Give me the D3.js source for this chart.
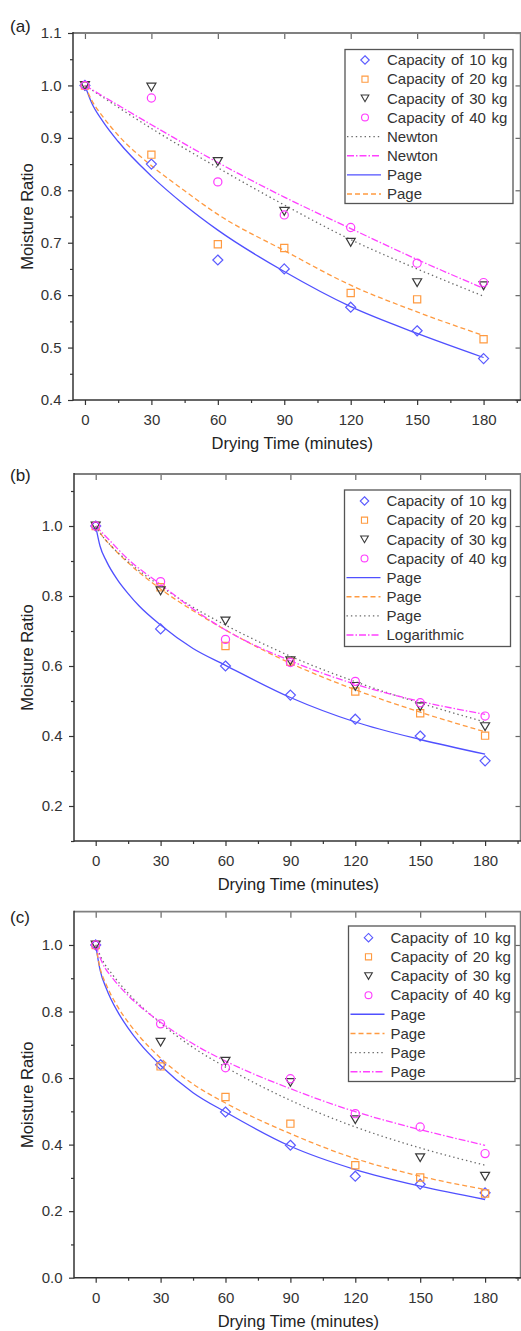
<!DOCTYPE html>
<html>
<head>
<meta charset="utf-8">
<script src="https://cdn.jsdelivr.net/npm/d3@7"></script>
<style>
  html, body { margin: 0; padding: 0; background: #fff; }
  svg { display: block; font-family: "Liberation Sans", Arial, sans-serif; }
</style>
</head>
<body>
<svg id="chart" width="521" height="1331"></svg>
<script>
// ---------------- DATA ----------------
const times = [0, 30, 60, 90, 120, 150, 180];
const seriesNames = ["Capacity of 10 kg", "Capacity of 20 kg", "Capacity of 30 kg", "Capacity of 40 kg"];
const xTicks = [0, 30, 60, 90, 120, 150, 180];
const xMinorTicks = [15, 45, 75, 105, 135, 165, 195];

// Panel (a) measured moisture ratios
const aMR10 = [1.000, 0.850, 0.667, 0.650, 0.577, 0.532, 0.479];
const aMR20 = [1.000, 0.868, 0.697, 0.690, 0.604, 0.592, 0.516];
const aMR30 = [1.000, 0.997, 0.855, 0.760, 0.701, 0.624, 0.618];
const aMR40 = [1.000, 0.976, 0.816, 0.753, 0.729, 0.661, 0.624];
// Panel (a) fitted curves [time, MR]
const aFit10 = [[0,1],[3,0.967],[8,0.932],[15,0.893],[30,0.827],[45,0.772],[60,0.724],[90,0.645],[120,0.578],[150,0.527],[180,0.481]];
const aFit20 = [[0,1],[3,0.972],[8,0.941],[15,0.905],[30,0.847],[45,0.799],[60,0.754],[90,0.685],[120,0.619],[150,0.568],[180,0.523]];
const aFit30 = [[0,1],[30,0.918],[60,0.843],[90,0.772],[120,0.706],[150,0.650],[180,0.598]];
const aFit40 = [[0,1],[30,0.925],[60,0.853],[90,0.787],[120,0.727],[150,0.668],[180,0.613]];
const aFitNames = ["Page", "Page", "Newton", "Newton"];
const aLegendOrder = [2, 3, 0, 1];
const aYTicks = [0.4, 0.5, 0.6, 0.7, 0.8, 0.9, 1.0, 1.1];
const aYMinorTicks = [0.45, 0.55, 0.65, 0.75, 0.85, 0.95, 1.05];

// Panel (b)
const bMR10 = [1.000, 0.706, 0.600, 0.517, 0.448, 0.400, 0.329];
const bMR20 = [1.000, 0.825, 0.657, 0.612, 0.527, 0.465, 0.401];
const bMR30 = [1.000, 0.815, 0.729, 0.615, 0.542, 0.484, 0.427];
const bMR40 = [1.000, 0.841, 0.676, 0.610, 0.556, 0.495, 0.457];
const bFit10 = [[0,1],[2,0.943],[5,0.899],[10,0.847],[15,0.807],[20,0.772],[30,0.717],[45,0.650],[60,0.602],[90,0.510],[120,0.440],[150,0.390],[180,0.348]];
const bFit20 = [[0,1],[3,0.972],[8,0.937],[15,0.895],[30,0.820],[45,0.758],[60,0.703],[90,0.608],[120,0.532],[150,0.468],[180,0.412]];
const bFit30 = [[0,1],[3,0.972],[8,0.938],[15,0.898],[30,0.828],[45,0.768],[60,0.717],[90,0.628],[120,0.555],[150,0.494],[180,0.440]];
const bFit40 = [[0,1],[5,0.968],[15,0.905],[30,0.833],[45,0.763],[60,0.703],[90,0.615],[120,0.548],[150,0.499],[180,0.462]];
const bFitNames = ["Page", "Page", "Page", "Logarithmic"];
const bLegendOrder = [0, 1, 2, 3];
const bYTicks = [0.2, 0.4, 0.6, 0.8, 1.0];
const bYMinorTicks = [0.1, 0.3, 0.5, 0.7, 0.9, 1.1];

// Panel (c)
const cMR10 = [1.000, 0.640, 0.498, 0.398, 0.305, 0.281, 0.255];
const cMR20 = [1.000, 0.635, 0.543, 0.463, 0.338, 0.301, 0.253];
const cMR30 = [1.000, 0.708, 0.651, 0.587, 0.475, 0.361, 0.305];
const cMR40 = [1.000, 0.763, 0.631, 0.598, 0.493, 0.453, 0.373];
const cFit10 = [[0,1],[2,0.925],[5,0.868],[10,0.801],[15,0.750],[20,0.707],[30,0.638],[45,0.556],[60,0.498],[90,0.395],[120,0.325],[150,0.275],[180,0.235]];
const cFit20 = [[0,1],[2,0.931],[5,0.879],[10,0.816],[15,0.768],[20,0.727],[30,0.660],[45,0.582],[60,0.525],[90,0.433],[120,0.358],[150,0.305],[180,0.265]];
const cFit30 = [[0,1],[3,0.956],[8,0.909],[15,0.855],[30,0.765],[45,0.692],[60,0.633],[90,0.533],[120,0.453],[150,0.390],[180,0.338]];
const cFit40 = [[0,1],[3,0.947],[8,0.899],[15,0.848],[20,0.818],[30,0.768],[45,0.703],[60,0.651],[90,0.568],[120,0.499],[150,0.445],[180,0.398]];
const cFitNames = ["Page", "Page", "Page", "Page"];
const cLegendOrder = [0, 1, 2, 3];
const cYTicks = [0.0, 0.2, 0.4, 0.6, 0.8, 1.0];
const cYMinorTicks = [0.1, 0.3, 0.5, 0.7, 0.9];

// ---------------- STYLE ----------------
const colors = ["#5b5bff", "#ff9a40", "#3a3a3a", "#ff3cff"];
const lineColors = ["#5050ff", "#ff9a40", "#6a6a6a", "#ff40ff"];
const dashes = [null, "5,3", "1.4,3", "7,2,1.5,2"];
const markerPaths = [
  "M0,-5L5,0L0,5L-5,0Z",
  "M-3.6,-3.6H3.6V3.6H-3.6Z",
  "M-4.5,-3.8L4.5,-3.8L0,4Z",
  d3.symbol(d3.symbolCircle, 52)()
];

const panels = [
  { label: "(a)", labelY: 32, left: 73, right: 521, top: 33, bottom: 400,
    xDomain: [-5.4, 196.9], yDomain: [0.4, 1.1], yTicks: aYTicks, yMinor: aYMinorTicks,
    mr: [aMR10, aMR20, aMR30, aMR40], fits: [aFit10, aFit20, aFit30, aFit40],
    fitNames: aFitNames, legendOrder: aLegendOrder,
    legend: { x: 345, y: 49.5, w: 168, h: 154, row0: 60 } },
  { label: "(b)", labelY: 481, left: 74, right: 521, top: 474, bottom: 841,
    xDomain: [-10.03, 196.6], yDomain: [0.1, 1.1486], yTicks: bYTicks, yMinor: bYMinorTicks,
    mr: [bMR10, bMR20, bMR30, bMR40], fits: [bFit10, bFit20, bFit30, bFit40],
    fitNames: bFitNames, legendOrder: bLegendOrder,
    legend: { x: 344.5, y: 490, w: 166, h: 156.5, row0: 501 } },
  { label: "(c)", labelY: 923, left: 74, right: 521, top: 911.7, bottom: 1277.7,
    xDomain: [-10.03, 196.6], yDomain: [0, 1.1], yTicks: cYTicks, yMinor: cYMinorTicks,
    mr: [cMR10, cMR20, cMR30, cMR40], fits: [cFit10, cFit20, cFit30, cFit40],
    fitNames: cFitNames, legendOrder: cLegendOrder,
    legend: { x: 348.5, y: 926, w: 166.5, h: 155.5, row0: 937.7 } }
];

const svg = d3.select("#chart");
const textColor = "#333";

panels.forEach((p, pi) => {
  const x = d3.scaleLinear().domain(p.xDomain).range([p.left, p.right]);
  const y = d3.scaleLinear().domain(p.yDomain).range([p.bottom, p.top]);
  const g = svg.append("g");

  const clipId = "clip" + pi;
  g.append("clipPath").attr("id", clipId).append("rect")
    .attr("x", p.left).attr("y", p.top).attr("width", p.right - p.left).attr("height", p.bottom - p.top);

  // fitted curves
  const line = d3.line().x(d => x(d[0])).y(d => y(d[1])).curve(d3.curveMonotoneX);
  const plot = g.append("g").attr("clip-path", `url(#${clipId})`);
  p.fits.forEach((f, i) => {
    plot.append("path").attr("d", line(f)).attr("fill", "none")
      .attr("stroke", lineColors[i]).attr("stroke-width", 1.3)
      .attr("stroke-dasharray", dashes[i]);
  });

  // markers
  p.mr.forEach((vals, i) => {
    plot.append("g").selectAll("path").data(vals).join("path")
      .attr("d", markerPaths[i])
      .attr("transform", (v, j) => `translate(${x(times[j])},${y(v)})`)
      .attr("fill", "none").attr("stroke", colors[i]).attr("stroke-width", 1.2);
  });

  // axes
  const fmt = d3.format(".1f");
  const bottomMinor = g.append("g").attr("transform", `translate(0,${p.bottom})`)
    .call(d3.axisBottom(x).tickValues(xMinorTicks).tickSize(3).tickFormat(""));
  const bottomMajor = g.append("g").attr("transform", `translate(0,${p.bottom})`)
    .call(d3.axisBottom(x).tickValues(xTicks).tickSize(5).tickPadding(9.5).tickFormat(d3.format("d")));
  const leftMinor = g.append("g").attr("transform", `translate(${p.left},0)`)
    .call(d3.axisLeft(y).tickValues(p.yMinor).tickSize(3).tickFormat(""));
  const leftMajor = g.append("g").attr("transform", `translate(${p.left},0)`)
    .call(d3.axisLeft(y).tickValues(p.yTicks).tickSize(5).tickPadding(6.5).tickFormat(fmt));
  const topAxis = g.append("g").attr("transform", `translate(0,${p.top})`)
    .call(d3.axisTop(x).tickValues(xTicks).tickSize(-6).tickFormat(""));
  const rightAxis = g.append("g").attr("transform", `translate(${p.right - 0.5},0)`)
    .call(d3.axisRight(y).tickValues(p.yTicks).tickSize(-5).tickFormat(""));

  [bottomMinor, bottomMajor, leftMinor, leftMajor].forEach(a => {
    a.select(".domain").remove();
    a.selectAll(".tick line").attr("stroke", "#333").attr("stroke-width", 1.2);
    a.selectAll(".tick text").attr("fill", textColor).attr("font-size", 15)
      .attr("font-family", "'Liberation Sans', Arial, sans-serif");
  });
  [topAxis, rightAxis].forEach(a => {
    a.select(".domain").remove();
    a.selectAll(".tick line").attr("stroke", "#666").attr("stroke-width", 1.2);
  });

  // frame
  g.append("line").attr("x1", p.left).attr("x2", p.right).attr("y1", p.top).attr("y2", p.top)
    .attr("stroke", "#808080").attr("stroke-width", 1.8);
  g.append("line").attr("x1", p.right - 0.5).attr("x2", p.right - 0.5).attr("y1", p.top).attr("y2", p.bottom)
    .attr("stroke", "#808080").attr("stroke-width", 1.5);
  g.append("line").attr("x1", p.left).attr("x2", p.left).attr("y1", p.top - 0.9).attr("y2", p.bottom + 0.75)
    .attr("stroke", "#333").attr("stroke-width", 1.5);
  g.append("line").attr("x1", p.left).attr("x2", p.right).attr("y1", p.bottom).attr("y2", p.bottom)
    .attr("stroke", "#333").attr("stroke-width", 1.5);

  // axis titles
  g.append("text").attr("x", (p.left + p.right) / 2 + 0).attr("y", p.bottom + 49)
    .attr("text-anchor", "middle").attr("font-size", 16.5).attr("fill", "#222")
    .attr("transform", `translate(${x(90) - (p.left + p.right) / 2 + 8},0)`)
    .text("Drying Time (minutes)");
  g.append("text")
    .attr("transform", `translate(33,${(p.top + p.bottom) / 2}) rotate(-90)`)
    .attr("text-anchor", "middle").attr("font-size", 16.5).attr("fill", "#222")
    .text("Moisture Ratio");

  // panel label
  g.append("text").attr("x", 10).attr("y", p.labelY).attr("font-size", 17).attr("fill", "#222")
    .text(p.label);

  // legend
  const L = p.legend;
  const lg = g.append("g");
  lg.append("rect").attr("x", L.x).attr("y", L.y).attr("width", L.w).attr("height", L.h)
    .attr("fill", "#fff").attr("stroke", "#555").attr("stroke-width", 1.3);
  const rowH = 19.15;
  seriesNames.forEach((name, i) => {
    const cy = L.row0 + i * rowH;
    lg.append("path").attr("d", markerPaths[i])
      .attr("transform", `translate(${L.x + 20},${cy}) scale(0.85)`)
      .attr("fill", "none").attr("stroke", colors[i]).attr("stroke-width", 1.3);
    lg.append("text").attr("x", L.x + 42).attr("y", cy + 5.3).attr("font-size", 15)
      .attr("fill", textColor).attr("word-spacing", "1.5px").text(name);
  });
  p.legendOrder.forEach((si, k) => {
    const cy = L.row0 + (4 + k) * rowH;
    lg.append("line").attr("x1", L.x + 2).attr("x2", L.x + 36).attr("y1", cy).attr("y2", cy)
      .attr("stroke", lineColors[si]).attr("stroke-width", 1.4)
      .attr("stroke-dasharray", dashes[si]);
    lg.append("text").attr("x", L.x + 42).attr("y", cy + 5.3).attr("font-size", 15)
      .attr("fill", textColor).text(p.fitNames[si]);
  });
});
</script>
</body>
</html>
